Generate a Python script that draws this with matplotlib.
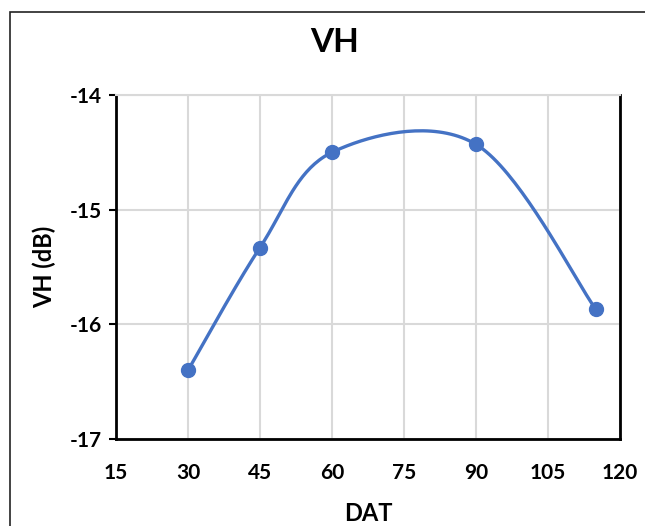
import numpy as np
import matplotlib.pyplot as plt
import matplotlib.patches as patches

# data
dat = [30, 45, 60, 90, 115]
vh = [-16.40, -15.33, -14.50, -14.43, -15.87]
xticks = [15, 30, 45, 60, 75, 90, 105, 120]
yticks = [-17, -16, -15, -14]


def smooth_line(x, y, n=40):
    # Excel-style smoothed line: Catmull-Rom bezier through the points
    x = np.asarray(x, float)
    y = np.asarray(y, float)
    px = np.concatenate([[x[0]], x, [x[-1]]])
    py = np.concatenate([[y[0]], y, [y[-1]]])
    xs, ys = [], []
    t = np.linspace(0, 1, n)
    for i in range(1, len(px) - 2):
        p0 = np.array([px[i], py[i]])
        p3 = np.array([px[i + 1], py[i + 1]])
        c1 = p0 + (np.array([px[i + 1], py[i + 1]]) - np.array([px[i - 1], py[i - 1]])) / 6
        c2 = p3 - (np.array([px[i + 2], py[i + 2]]) - np.array([px[i], py[i]])) / 6
        b = ((1 - t) ** 3)[:, None] * p0 + (3 * (1 - t) ** 2 * t)[:, None] * c1 \
            + (3 * (1 - t) * t ** 2)[:, None] * c2 + (t ** 3)[:, None] * p3
        xs.extend(b[:, 0])
        ys.extend(b[:, 1])
    return xs, ys


plt.rcParams['font.family'] = ['Lato', 'DejaVu Sans']
plt.rcParams['font.weight'] = 'bold'
plt.rcParams['axes.unicode_minus'] = False

fig = plt.figure(figsize=(6.45, 5.26), dpi=100)
ax = fig.add_axes([0.18, 0.1654, 0.781, 0.654])

# outer chart border (cropped at right and bottom)
fig.patches.append(patches.Rectangle((10 / 645, -0.1), 2, 1 - 12 / 526 + 0.1,
                                     transform=fig.transFigure, fill=False,
                                     edgecolor='#222222', linewidth=1.2))

sx, sy = smooth_line(dat, vh)
ax.plot(sx, sy, color='#4472C4', linewidth=2.4, zorder=3)
ax.plot(dat, vh, 'o', color='#4472C4', markersize=10, zorder=4)

ax.set_xlim(15, 120)
ax.set_ylim(-17, -14)
ax.set_xticks(xticks)
ax.set_yticks(yticks)
ax.tick_params(axis='x', length=0, pad=17, labelsize=15)
ax.tick_params(axis='y', length=5, width=1.5, pad=5, labelsize=15)

ax.grid(True, color='#d9d9d9', linewidth=1.5, zorder=0)
ax.set_axisbelow(True)
for side in ['left', 'bottom', 'right']:
    ax.spines[side].set_linewidth(2)
    ax.spines[side].set_color('black')
ax.spines['top'].set_color('#d9d9d9')
ax.spines['top'].set_linewidth(1.5)

fig.text(335 / 645, 1 - 42 / 526, 'VH', fontsize=24, fontweight='bold',
         ha='center', va='center')
ax.set_xlabel('DAT', fontsize=17, fontweight='bold', labelpad=14)
ax.set_ylabel('VH (dB)', fontsize=17, fontweight='bold', labelpad=10)

fig.savefig('out.png', dpi=100)
